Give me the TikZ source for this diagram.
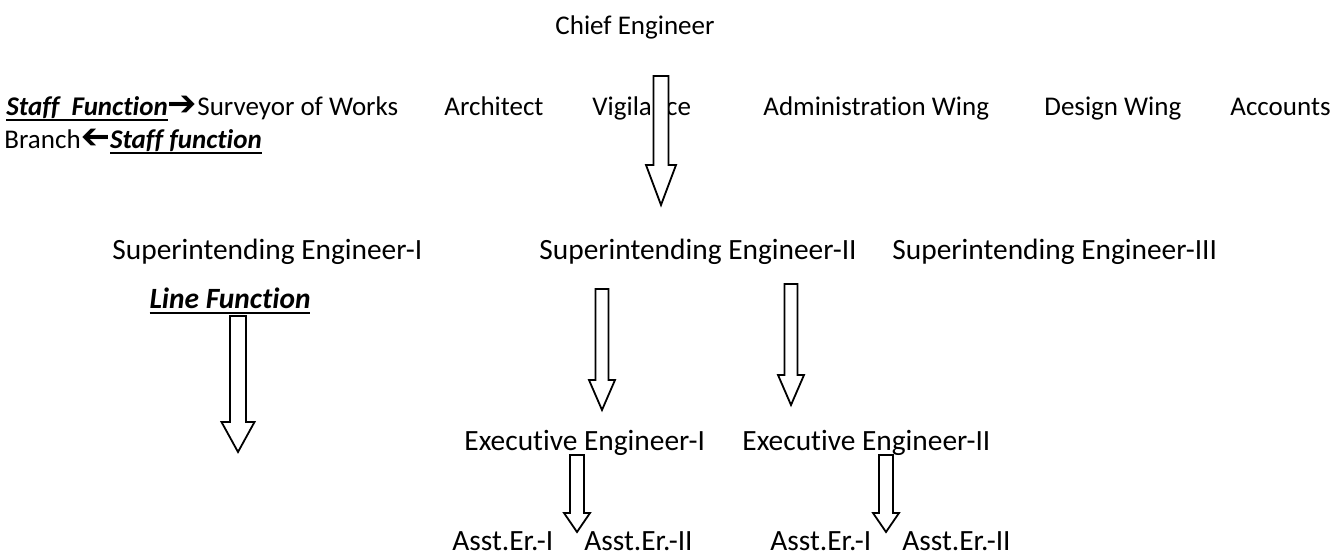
\documentclass[tikz,border=0pt]{standalone}
\usepackage{fontspec}
\usepackage{graphicx}
\setmainfont{Carlito}[Ligatures=NoCommon]
\newfontfamily\arrowfont{DejaVu Sans}

% hollow block arrow pointing down: x, top, neck, tip, half shaft, half head
\newcommand{\hollowarrow}[6]{%
  \draw[fill=white,line width=0.9pt,line join=miter]
    (#1-#5,#2) -- (#1+#5,#2) -- (#1+#5,#3) -- (#1+#6,#3) -- (#1,#4)
    -- (#1-#6,#3) -- (#1-#5,#3) -- cycle;}
\newsavebox{\fnbox}
\newcommand{\fnlabel}[1]{\sbox{\fnbox}{\textbf{\textit{#1}}}%
  \rlap{\rule[-2.4pt]{\wd\fnbox}{1pt}}\usebox{\fnbox}}
\newcommand{\rarr}{{\arrowfont\bfseries\scalebox{1.3}{➔}}}
\newcommand{\larr}{{\arrowfont\bfseries\scalebox{-1.3}[1.3]{➔}}}

\begin{document}
\begin{tikzpicture}[x=0.5pt,y=-0.5pt,
  toprow/.style={font=\fontsize{13.5}{16}\selectfont,inner sep=0pt,anchor=base west},
  lowrow/.style={font=\fontsize{14.7}{18}\selectfont,inner sep=0pt,anchor=base west}]
  \path[use as bounding box] (0,0) rectangle (1343,555);

  % head of the office
  \node[toprow,anchor=base] (chief) at (635,35) {Chief Engineer};

  % staff wings
  \node[toprow] (staff) at (6,116) {\fnlabel{Staff\hspace{3pt} Function}\rarr};
  \node[toprow] (survey) at (197,116) {Surveyor of Works};
  \node[toprow] (arch) at (444,116) {Architect};
  \node[toprow] (vigil) at (592,116) {Vigilance};
  \node[toprow] (admin) at (763,116) {Administration Wing};
  \node[toprow] (design) at (1044,116) {Design Wing};
  \node[toprow,anchor=base east] (accts) at (1331,116) {Accounts};
  \node[toprow] (branch) at (4,149) {Branch\larr\fnlabel{Staff function}};

  % line wings
  \node[lowrow] (se1) at (112,260) {Superintending Engineer-I};
  \node[lowrow] (se2) at (539,260) {Superintending Engineer-II};
  \node[lowrow] (se3) at (892,260) {Superintending Engineer-III};
  \node[lowrow,anchor=base] (line) at (230,309) {\fnlabel{Line Function}};
  \node[lowrow] (ee1) at (464,450) {Executive Engineer-I};
  \node[lowrow] (ee2) at (742,450) {Executive Engineer-II};
  \node[lowrow] (ae1) at (452,550) {Asst.Er.-I};
  \node[lowrow] (ae2) at (584,550) {Asst.Er.-II};
  \node[lowrow] (ae3) at (770,550) {Asst.Er.-I};
  \node[lowrow] (ae4) at (902,550) {Asst.Er.-II};

  % block arrows
  \hollowarrow{661}{76}{165}{205}{7.5}{15}
  \hollowarrow{238}{316}{422}{452}{8}{16.5}
  \hollowarrow{602}{289}{380}{410}{6.5}{13}
  \hollowarrow{791}{284}{375}{405}{6.5}{13}
  \hollowarrow{577}{455}{513}{532}{7}{13}
  \hollowarrow{886}{455}{513}{532}{7}{13}
\end{tikzpicture}
\end{document}
